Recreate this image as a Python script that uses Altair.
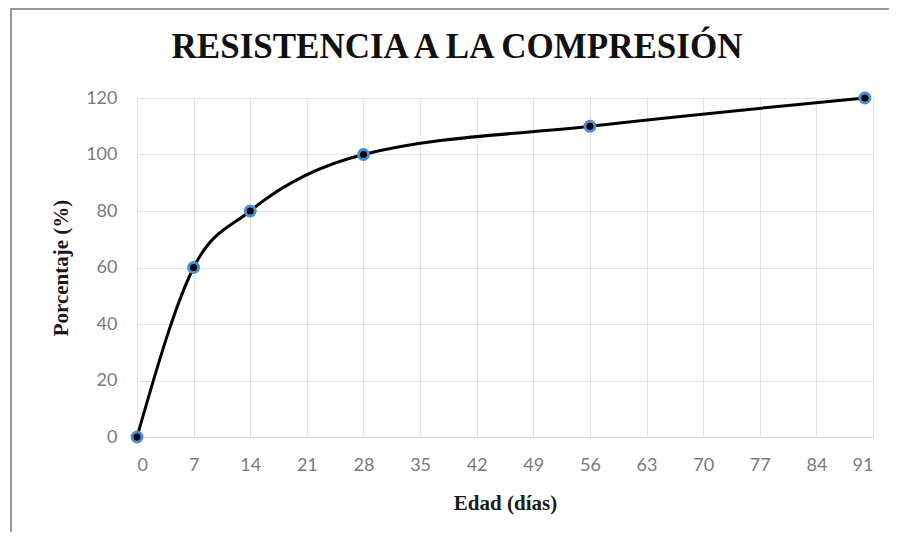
import altair as alt
import pandas as pd

edad = [0, 7, 14, 28, 56, 90]
porcentaje = [0, 60, 80, 100, 110, 120]
x_ticks = list(range(0, 92, 7))
y_ticks = [0, 20, 40, 60, 80, 100, 120]
titulo = "RESISTENCIA A LA COMPRESIÓN"

df = pd.DataFrame({"Edad": edad, "Porcentaje": porcentaje})

W, H = 736, 339

x = alt.X("Edad:Q", scale=alt.Scale(domain=[0, 91], nice=False, zero=False),
          axis=alt.Axis(values=x_ticks, title="Edad (días)", labelFont="Lato", labelFontSize=18,
                        labelColor="#7a7a7a", labelPadding=19, tickSize=0, domainColor="#d9d9d9",
                        gridColor="#e3e3e3", titleFont="Liberation Serif", titleFontSize=21,
                        titleFontWeight="bold", titleColor="#1a1a1a", titlePadding=18))
y = alt.Y("Porcentaje:Q", scale=alt.Scale(domain=[0, 120], nice=False),
          axis=alt.Axis(values=y_ticks, title="Porcentaje (%)", labelFont="Lato", labelFontSize=18,
                        labelColor="#7a7a7a", labelPadding=20, tickSize=0, domain=False,
                        gridColor="#e3e3e3", titleFont="Liberation Serif", titleFontSize=21,
                        titleFontWeight="bold", titleColor="#1a1a1a", titlePadding=14))

line = alt.Chart(df).mark_line(color="black", strokeWidth=3, interpolate="monotone").encode(x=x, y=y)
pts = alt.Chart(df).mark_point(filled=True, fill="black", stroke="#4a8fd6", strokeWidth=3,
                               size=100, opacity=1).encode(x=x, y=y)

border_left = alt.Chart(df).mark_rule(color="#9a9a9a", strokeWidth=2).encode(
    x=alt.value(-126), y=alt.value(-89), y2=alt.value(434))
border_top = alt.Chart(df).mark_rule(color="#9a9a9a", strokeWidth=2).encode(
    x=alt.value(-127), x2=alt.value(752), y=alt.value(-89))

title_df = pd.DataFrame({"t": [titulo]})
title_mark = alt.Chart(title_df).mark_text(
    font="Liberation Serif", fontSize=35, fontWeight="bold", color="#111111",
    align="center", baseline="alphabetic").encode(
    text="t:N", x=alt.value(320), y=alt.value(-40))

chart = alt.layer(border_left, border_top, line, pts, title_mark).properties(
    width=W, height=H,
    autosize=alt.AutoSizeParams(type="none"),
    padding={"left": 129, "top": 90, "right": 16, "bottom": 95},
).configure_view(stroke=None)

chart.save("out.html", embed_options={"renderer": "svg", "actions": False})
